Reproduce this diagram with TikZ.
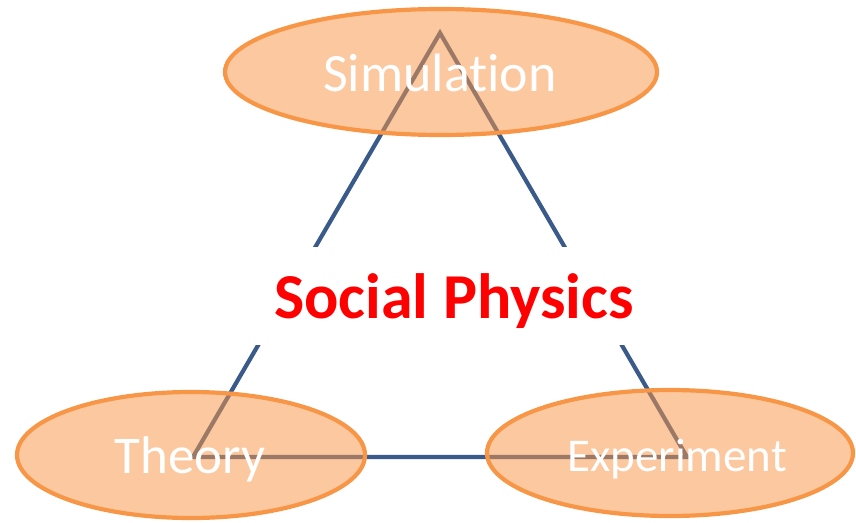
\documentclass[tikz,border=0pt]{standalone}
\usepackage{fontspec}
\setmainfont[Ligatures={NoCommon}]{Carlito}
\usetikzlibrary{shapes.geometric}
\definecolor{tri}{HTML}{3A5A8A}
\definecolor{orb}{HTML}{F79646}
\definecolor{spred}{HTML}{FF0000}
\tikzset{
  edge/.style={draw=tri, line width=4.2pt},
  blob/.style={ellipse, draw=orb, line width=4.2pt, fill=orb, fill opacity=0.52, draw opacity=1, inner sep=0pt},
  lbl/.style={text=white, inner sep=0pt, anchor=base},
}
\begin{document}
\begin{tikzpicture}[x=1pt,y=-1pt]
\useasboundingbox (0,0) rectangle (856,522);
\coordinate (A) at (440,33);
\coordinate (B) at (193,457);
\coordinate (C) at (687,457);
\draw[edge, line join=miter] (B) -- (A) -- (C) -- cycle;
\node[fill=white, minimum width=372pt, minimum height=98pt, inner sep=0pt] (box) at (440,296) {};
\node[text=spred, font=\bfseries\fontsize{64}{64}\selectfont, inner sep=0pt, anchor=base] (sp) at (454,318) {Social Physics};
\node[blob, minimum width=432pt, minimum height=126pt] (sim) at (441,72) {};
\node[blob, minimum width=348pt, minimum height=126pt] (th) at (191,455) {};
\node[blob, minimum width=366pt, minimum height=126pt] (ex) at (670,453) {};
\node[lbl, font=\fontsize{54}{54}\selectfont] (simt) at (440,91) {Simulation};
\node[lbl, font=\fontsize{53}{53}\selectfont] (tht) at (190,473) {Theory};
\node[lbl, font=\fontsize{47}{47}\selectfont] (ext) at (677,471) {Experiment};
\end{tikzpicture}
\end{document}
